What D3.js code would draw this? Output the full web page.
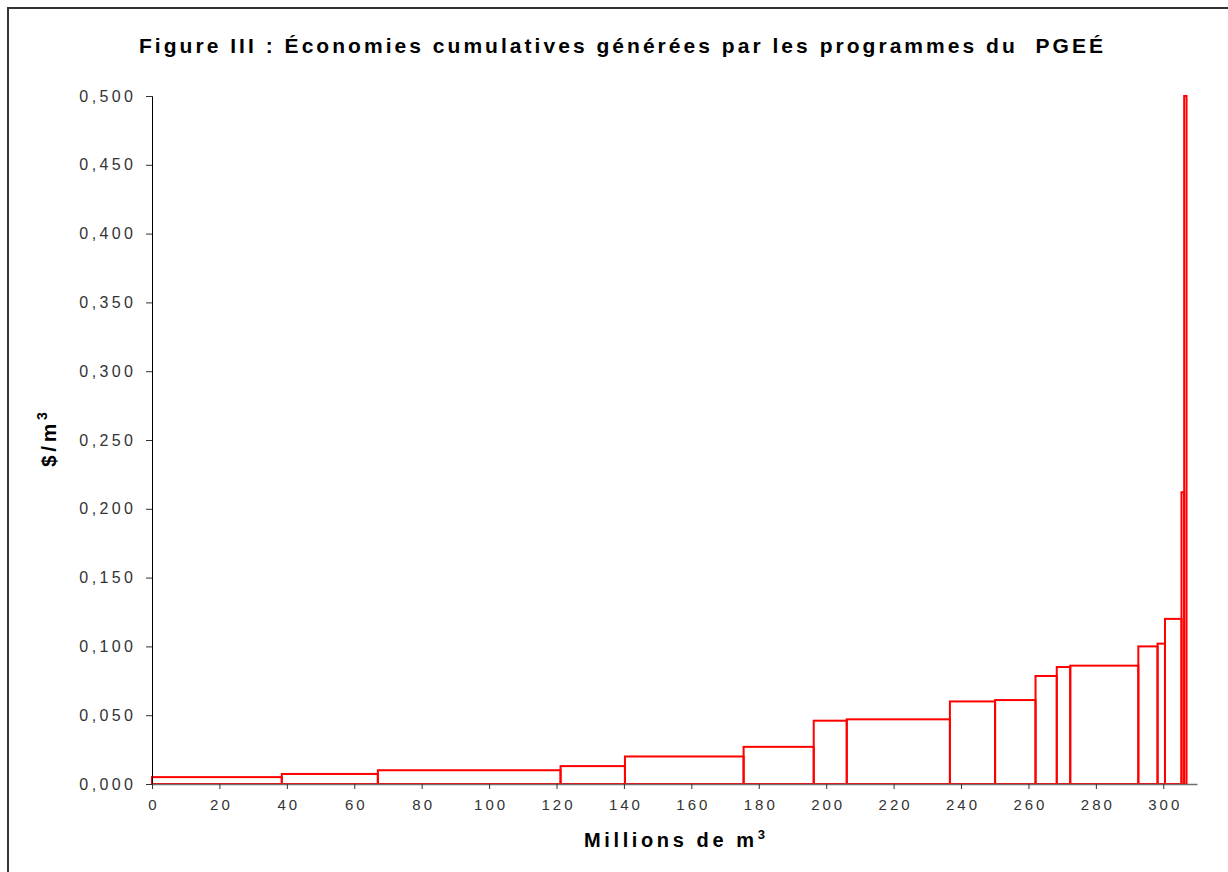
<!DOCTYPE html>
<html>
<head>
<meta charset="utf-8">
<script src="https://cdn.jsdelivr.net/npm/d3@7"></script>
<style>
  html, body { margin: 0; padding: 0; background: #fff; }
  svg { display: block; font-family: Arial, 'Liberation Sans', sans-serif; }
</style>
</head>
<body>
<div id="chart"></div>
<script>
// Programmes du PGEÉ, classés par coût croissant
const PROGRAM_VOLUMES = [38.5, 28.5, 54.2, 19.1, 35.2, 20.8, 9.8, 30.6, 13.4, 12.0, 6.3, 4.0, 20.2, 5.7, 2.2, 4.9, 0.8, 0.7]; // millions de m³
const PROGRAM_COSTS = [0.005, 0.0073, 0.010, 0.013, 0.020, 0.027, 0.046, 0.047, 0.060, 0.061, 0.0785, 0.085, 0.086, 0.100, 0.102, 0.120, 0.212, 0.500]; // $/m³
const X_TICKS = [0, 20, 40, 60, 80, 100, 120, 140, 160, 180, 200, 220, 240, 260, 280, 300];
const Y_TICKS = [0, 0.05, 0.1, 0.15, 0.2, 0.25, 0.3, 0.35, 0.4, 0.45, 0.5];

const TITLE = 'Figure III : Économies cumulatives générées par les programmes du  PGEÉ';

(function () {
  'use strict';

  const W = 1228, H = 872;
  const plot = { left: 152, right: 1197, top: 96, bottom: 784 };

  const svg = d3.select('#chart').append('svg')
    .attr('width', W)
    .attr('height', H);

  // Cadre (bords droit et bas hors champ)
  svg.append('rect')
    .attr('x', 8).attr('y', 8)
    .attr('width', 1260).attr('height', 900)
    .attr('fill', 'none')
    .attr('stroke', '#333')
    .attr('stroke-width', 2);

  const x = d3.scaleLinear().domain([0, 310]).range([plot.left, plot.right]);
  const y = d3.scaleLinear().domain([0, 0.5]).range([plot.bottom, plot.top]);

  const fr = d3.formatLocale({ decimal: ',', thousands: ' ', grouping: [3], currency: ['', '$'] });
  const fmt = fr.format('.3f');

  // Rectangles : largeur = volume, hauteur = coût
  const ends = Array.from(d3.cumsum(PROGRAM_VOLUMES));
  const steps = PROGRAM_COSTS.map((c, i) => ({
    x0: i === 0 ? 0 : ends[i - 1],
    x1: ends[i],
    cost: c
  }));

  svg.append('g')
    .selectAll('rect')
    .data(steps)
    .enter()
    .append('rect')
    .attr('x', d => x(d.x0))
    .attr('y', d => y(d.cost))
    .attr('width', d => x(d.x1) - x(d.x0))
    .attr('height', d => y(0) - y(d.cost))
    .attr('fill', 'none')
    .attr('stroke', '#ff0000')
    .attr('stroke-width', 2);

  // Axe Y
  const yAxis = svg.append('g')
    .attr('transform', `translate(${plot.left},0)`)
    .call(d3.axisLeft(y).tickValues(Y_TICKS).tickFormat(fmt).tickSize(6).tickPadding(13));
  yAxis.select('.domain').attr('stroke', '#000').attr('stroke-width', 1);
  yAxis.selectAll('.tick line').attr('stroke', '#333');
  yAxis.selectAll('.tick text')
    .attr('fill', '#333')
    .style('font-size', '16px')
    .style('letter-spacing', '3.4px')
    .attr('dx', '3.4px');

  // Axe X
  const xAxis = svg.append('g')
    .attr('transform', `translate(0,${plot.bottom})`)
    .call(d3.axisBottom(x).tickValues(X_TICKS).tickSize(5).tickSizeOuter(0).tickPadding(10));
  xAxis.select('.domain').attr('stroke', '#707070').attr('stroke-width', 1.6);
  xAxis.selectAll('.tick line').attr('stroke', '#333');
  xAxis.selectAll('.tick text')
    .attr('fill', '#333')
    .style('font-size', '15px')
    .style('letter-spacing', '3px')
    .attr('dx', '1.5px');

  // Titre
  const title = svg.append('text')
    .attr('x', 139)
    .attr('y', 53)
    .style('font-size', '21px')
    .style('font-weight', 'bold')
    .style('white-space', 'pre')
    .attr('fill', '#000')
    .text(TITLE);
  _fit(title, 964, TITLE.length);

  // Titre axe X
  const xTitle = svg.append('text')
    .attr('x', 584)
    .attr('y', 847)
    .style('font-size', '20px')
    .style('font-weight', 'bold')
    .attr('fill', '#000');
  xTitle.append('tspan').text('Millions de m');
  xTitle.append('tspan').attr('dy', -8).style('font-size', '13px').text('3');
  _fit(xTitle, 181, 14);

  // Titre axe Y
  const yTitle = svg.append('text')
    .attr('transform', 'translate(56,467) rotate(-90)')
    .style('font-size', '21px')
    .style('font-weight', 'bold')
    .attr('fill', '#000');
  yTitle.append('tspan').text('$/m');
  yTitle.append('tspan').attr('dy', -9).style('font-size', '14px').text('3');
  _fit(yTitle, 55, 4);

  // ─── Utils ──────────────────────────────────────────────────────────────────

  function _fit(sel, target, n) {
    sel.style('letter-spacing', '0px');
    const w = sel.node().getBBox().width;
    const s = (target - w) / (n - 1);
    sel.style('letter-spacing', s + 'px');
  }
})();
</script>
</body>
</html>
